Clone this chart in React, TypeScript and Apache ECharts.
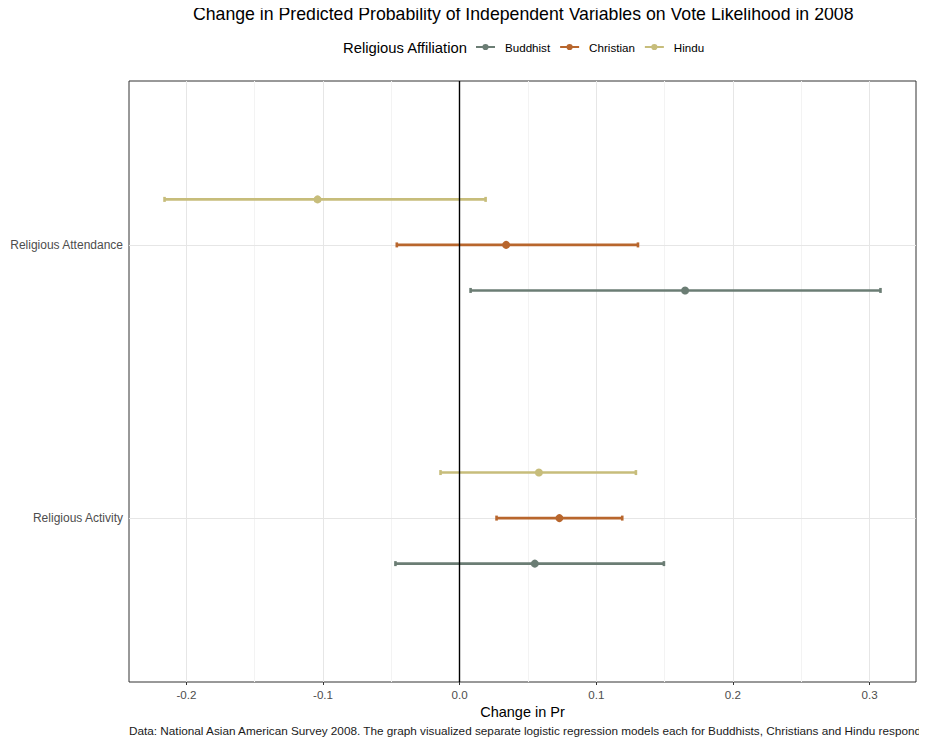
import React, { useEffect, useRef } from "react";
import * as echarts from "echarts";

const categories = ["Religious Activity", "Religious Attendance"];
const groups = ["Buddhist", "Christian", "Hindu"];
const groupColors = ["#6b7d74", "#b8662d", "#c7bd7b"];
const groupOffsets = [-1 / 6, 0, 1 / 6];

const buddhistEst = [0.055, 0.165];
const buddhistLow = [-0.047, 0.008];
const buddhistHigh = [0.1495, 0.308];
const christianEst = [0.073, 0.034];
const christianLow = [0.027, -0.046];
const christianHigh = [0.119, 0.1305];
const hinduEst = [0.058, -0.104];
const hinduLow = [-0.014, -0.216];
const hinduHigh = [0.129, 0.019];

const xMajorTicks = [-0.2, -0.1, 0, 0.1, 0.2, 0.3];
const xMinorTicks = [-0.15, -0.05, 0.05, 0.15, 0.25];
const yTicks = [1, 2];

const FONT = "Liberation Sans, Arial, Helvetica, sans-serif";

const legendIcon =
  "path://M0,3.7 L22,3.7 L22,6.3 L0,6.3 Z M14.6,5 A3.6,3.6 0 1,1 7.4,5 A3.6,3.6 0 1,1 14.6,5 Z";

export default function App() {
  const ref = useRef<HTMLDivElement>(null);

  useEffect(() => {
    if (!ref.current) return;
    const chart = echarts.init(ref.current, undefined, { renderer: "svg" });

    const est = [buddhistEst, christianEst, hinduEst];
    const low = [buddhistLow, christianLow, hinduLow];
    const high = [buddhistHigh, christianHigh, hinduHigh];

    const errSeries = groups.map((g, gi) => ({
      name: g,
      type: "custom",
      z: 3,
      itemStyle: { color: groupColors[gi] },
      encode: { x: [0, 1, 2], y: 3 },
      data: categories.map((_, ci) => [
        low[gi][ci],
        high[gi][ci],
        est[gi][ci],
        ci + 1 + groupOffsets[gi],
      ]),
      renderItem: (params: any, api: any) => {
        const y = api.value(3);
        const lo = api.coord([api.value(0), y]);
        const hi = api.coord([api.value(1), y]);
        const pt = api.coord([api.value(2), y]);
        const c = groupColors[gi];
        const st = { stroke: c, lineWidth: 2.6 };
        return {
          type: "group",
          children: [
            { type: "line", shape: { x1: lo[0], y1: lo[1], x2: hi[0], y2: hi[1] }, style: st },
            { type: "line", shape: { x1: lo[0], y1: lo[1] - 2.5, x2: lo[0], y2: lo[1] + 2.5 }, style: st },
            { type: "line", shape: { x1: hi[0], y1: hi[1] - 2.5, x2: hi[0], y2: hi[1] + 2.5 }, style: st },
            { type: "circle", shape: { cx: pt[0], cy: pt[1], r: 4 }, style: { fill: c } },
          ],
        };
      },
    }));

    const option: any = {
      animation: false,
      textStyle: { fontFamily: FONT },
      title: {
        text: "Change in Predicted Probability of Independent Variables on Vote Likelihood in 2008",
        left: 193,
        top: 4,
        padding: 0,
        textStyle: { fontSize: 17.7, lineHeight: 20, fontWeight: "normal", color: "#000", fontFamily: FONT },
      },
      graphic: [
        {
          type: "text",
          x: 343,
          y: 48,
          style: {
            text: "Religious Affiliation",
            fontSize: 14.8,
            fill: "#000",
            fontFamily: FONT,
            align: "left",
            verticalAlign: "middle",
          },
        },
        {
          type: "text",
          x: 129,
          y: 730,
          style: {
            text:
              "Data: National Asian American Survey 2008. The graph visualized separate logistic regression models each for Buddhists, Christians and Hindu respondents.",
            fontSize: 11.75,
            fill: "#1a1a1a",
            fontFamily: FONT,
            align: "left",
            verticalAlign: "middle",
          },
        },
      ],
      legend: {
        left: 476,
        top: 41,
        padding: 0,
        itemWidth: 19,
        itemHeight: 10,
        itemGap: 10,
        textStyle: { fontSize: 11.6, color: "#000", fontFamily: FONT, padding: [0, 0, 0, 5] },
        data: groups.map((g, i) => ({ name: g, icon: legendIcon, itemStyle: { color: groupColors[i] } })),
      },
      grid: {
        left: 129,
        right: 11,
        top: 81,
        bottom: 56,
        show: true,
        borderColor: "#333",
        borderWidth: 1,
        backgroundColor: "transparent",
      },
      xAxis: {
        type: "value",
        min: -0.242,
        max: 0.334,
        name: "Change in Pr",
        nameLocation: "middle",
        nameGap: 21,
        nameTextStyle: { fontSize: 14.5, color: "#000", fontFamily: FONT },
        axisLine: { show: false },
        axisTick: { show: true, customValues: xMajorTicks, length: 3, lineStyle: { color: "#333" } },
        axisLabel: {
          customValues: xMajorTicks,
          formatter: (v: number) => v.toFixed(1),
          fontSize: 11.6,
          color: "#4d4d4d",
          margin: 6,
        },
        splitLine: { show: false },
      },
      yAxis: {
        type: "value",
        min: 0.4,
        max: 2.6,
        axisLine: { show: false },
        axisTick: { show: true, customValues: yTicks, length: 3, lineStyle: { color: "#333" } },
        axisLabel: {
          customValues: yTicks,
          formatter: (v: number) => categories[Math.round(v) - 1] ?? "",
          fontSize: 12,
          color: "#4d4d4d",
          margin: 6,
        },
        splitLine: { show: false },
      },
      series: [
        {
          type: "line",
          data: [],
          z: 1,
          silent: true,
          markLine: {
            silent: true,
            z: 1,
            symbol: "none",
            label: { show: false },
            animation: false,
            data: [
              ...xMinorTicks.map((v) => ({ xAxis: v, lineStyle: { color: "#f3f3f3", width: 1, type: "solid" } })),
              ...xMajorTicks.map((v) => ({ xAxis: v, lineStyle: { color: "#e6e6e6", width: 1, type: "solid" } })),
              ...yTicks.map((v) => ({ yAxis: v, lineStyle: { color: "#e6e6e6", width: 1, type: "solid" } })),
            ],
          },
        },
        ...errSeries,
        {
          type: "line",
          data: [],
          z: 10,
          silent: true,
          markLine: {
            silent: true,
            z: 10,
            symbol: "none",
            label: { show: false },
            animation: false,
            data: [{ xAxis: 0, lineStyle: { color: "#000", width: 1.4, type: "solid" } }],
          },
        },
      ],
    };

    chart.setOption(option);
    return () => chart.dispose();
  }, []);

  return <div ref={ref} style={{ width: 927, height: 738, marginLeft: -8, marginTop: -8 }} />;
}
